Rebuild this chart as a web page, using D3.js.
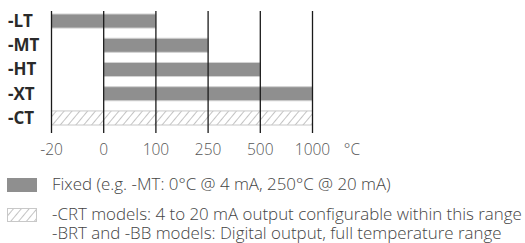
<!DOCTYPE html>
<html>
<head>
<meta charset="utf-8">
<script src="https://cdn.jsdelivr.net/npm/d3@7"></script>
<style>
  body { margin: 0; background: #fff; }
  svg { display: block; font-family: "Open Sans", sans-serif; }
</style>
</head>
<body>
<svg width="525" height="243"></svg>
<script>
// data
const ticks = ["-20", "0", "100", "250", "500", "1000"];
const models = ["-LT", "-MT", "-HT", "-XT", "-CT"];
const rangeStart = ["-20", "0", "0", "0", "-20"];
const rangeEnd = ["100", "250", "500", "1000", "1000"];
const kind = ["fixed", "fixed", "fixed", "fixed", "config"];
const legendLabels = [
  ["Fixed (e.g. -MT: 0°C @ 4 mA, 250°C @ 20 mA)"],
  ["-CRT models: 4 to 20 mA output configurable within this range",
   "-BRT and -BB models: Digital output, full temperature range"]
];

const svg = d3.select("svg");

const x = d3.scalePoint().domain(ticks).range([51.5, 312.5]);
const y = d3.scaleBand().domain(models).range([14, 125]).paddingInner(0.42).paddingOuter(0);

// hatch pattern
const defs = svg.append("defs");
const pat = defs.append("pattern")
  .attr("id", "hatch")
  .attr("patternUnits", "userSpaceOnUse")
  .attr("width", 6)
  .attr("height", 6)
  .attr("patternTransform", "rotate(40)");
pat.append("rect").attr("width", 6).attr("height", 6).attr("fill", "#fff");
pat.append("line")
  .attr("x1", 0).attr("y1", 0).attr("x2", 0).attr("y2", 6)
  .attr("stroke", "#aaa").attr("stroke-width", 1.4);

const rows = models.map((m, i) => ({ name: m, from: rangeStart[i], to: rangeEnd[i], kind: kind[i] }));

// bars
svg.append("g")
  .selectAll("rect")
  .data(rows)
  .enter()
  .append("rect")
  .attr("x", d => x(d.from))
  .attr("y", d => y(d.name))
  .attr("width", d => x(d.to) - x(d.from))
  .attr("height", y.bandwidth())
  .attr("fill", d => d.kind === "fixed" ? "#8f8f8f" : "url(#hatch)")
  .attr("stroke", d => d.kind === "fixed" ? "#d2d2d2" : "#c8c8c8")
  .attr("stroke-width", 1);

// grid lines on top
svg.append("g")
  .selectAll("line")
  .data(ticks)
  .enter()
  .append("line")
  .attr("x1", d => x(d))
  .attr("x2", d => x(d))
  .attr("y1", 11)
  .attr("y2", 133)
  .attr("stroke", "#1a1a1a")
  .attr("stroke-width", 1.3);

// category labels
svg.append("g")
  .selectAll("text")
  .data(models)
  .enter()
  .append("text")
  .attr("x", 8)
  .attr("y", d => y(d) + y.bandwidth() / 2)
  .attr("dy", "0.35em")
  .attr("font-size", 17)
  .attr("font-weight", 700)
  .attr("fill", "#2a2a2a")
  .text(d => d);

// tick labels
svg.append("g")
  .selectAll("text")
  .data(ticks)
  .enter()
  .append("text")
  .attr("x", d => x(d))
  .attr("y", 150)
  .attr("dy", "0.35em")
  .attr("text-anchor", "middle")
  .attr("font-size", 15.5)
  .attr("font-weight", 300)
  .attr("fill", "#555")
  .text(d => d);

svg.append("text")
  .attr("x", 352)
  .attr("y", 150)
  .attr("dy", "0.35em")
  .attr("text-anchor", "middle")
  .attr("font-size", 15.5)
  .attr("font-weight", 300)
  .attr("fill", "#555")
  .text("°C");

// legend
const legend = svg.append("g");
const swatchY = [178, 208];
legend.selectAll("rect")
  .data(["fixed", "config"])
  .enter()
  .append("rect")
  .attr("x", 7.5)
  .attr("y", (d, i) => swatchY[i] + 0.5)
  .attr("width", 29)
  .attr("height", 13)
  .attr("fill", d => d === "fixed" ? "#8f8f8f" : "url(#hatch)")
  .attr("stroke", d => d === "fixed" ? "#8f8f8f" : "#c8c8c8");

legendLabels.forEach((lines, i) => {
  lines.forEach((t, j) => {
    legend.append("text")
      .attr("x", 52)
      .attr("y", swatchY[i] + 6.5 + j * 19)
      .attr("dy", "0.35em")
      .attr("font-size", 16.9)
      .attr("font-weight", 300)
      .attr("fill", "#444")
      .text(t);
  });
});
</script>
</body>
</html>
